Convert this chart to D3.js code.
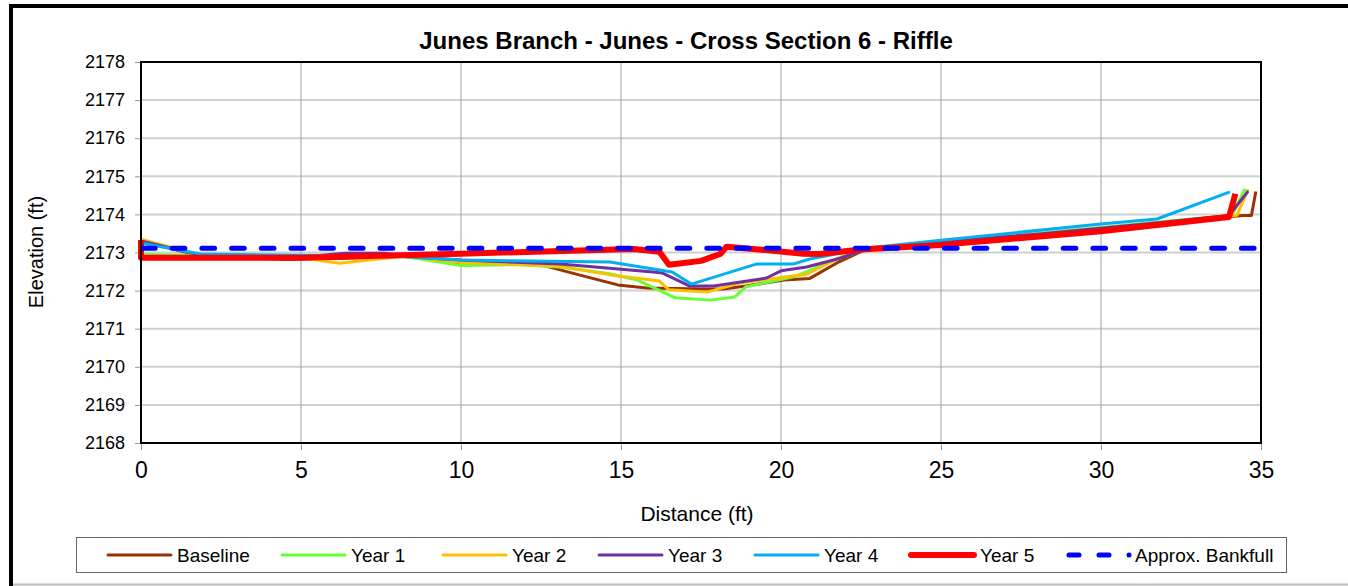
<!DOCTYPE html>
<html>
<head>
<meta charset="utf-8">
<script src="https://cdn.jsdelivr.net/npm/d3@7"></script>
<style>
  body { margin: 0; background: #fff; }
  svg text { font-family: "Liberation Sans", Arial, sans-serif; fill: #000; }
</style>
</head>
<body>
<script>
// data (distance ft, elevation ft)
var baseline = [[0, 2173.3], [1.9, 2172.9], [4.6, 2172.82], [6.3, 2172.85], [8.2, 2172.9], [10, 2172.72], [12.3, 2172.72],
  [13.75, 2172.4], [14.9, 2172.15], [15.8, 2172.07], [17.5, 2172.04], [18.2, 2172.04], [18.9, 2172.12], [20.1, 2172.28],
  [20.9, 2172.32], [21.8, 2172.75], [22.7, 2173.1], [25, 2173.28], [28, 2173.45], [31.8, 2173.78], [34.45, 2173.97],
  [34.7, 2173.97], [34.84, 2174.6]];
var year1 = [[0, 2172.95], [1.9, 2172.92], [5, 2172.88], [8.2, 2172.9], [10, 2172.66], [11.8, 2172.68], [13.1, 2172.62],
  [14.6, 2172.45], [15.5, 2172.28], [16.7, 2171.81], [17.8, 2171.75], [18.55, 2171.83], [18.9, 2172.1], [20.4, 2172.36],
  [21.85, 2172.85], [22.7, 2173.1], [25, 2173.28], [28, 2173.5], [31.8, 2173.8], [34.1, 2173.98], [34.5, 2174.67]];
var year2 = [[0, 2173.35], [1.9, 2172.92], [5, 2172.86], [6.2, 2172.72], [8.2, 2172.9], [10, 2172.74], [13.1, 2172.64],
  [14.75, 2172.4], [16.2, 2172.25], [16.5, 2172.02], [17.7, 2171.96], [18.7, 2172.2], [20.8, 2172.43], [21.85, 2172.88],
  [22.7, 2173.12], [25, 2173.28], [28, 2173.48], [31.8, 2173.78], [34.25, 2173.98], [34.6, 2174.66]];
var year3 = [[0, 2173.3], [1.9, 2172.92], [5, 2172.88], [6.4, 2172.98], [7.6, 2172.98], [8.5, 2172.88], [10, 2172.8],
  [13.1, 2172.7], [16.0, 2172.49], [16.3, 2172.46], [17.15, 2172.12], [17.9, 2172.12], [19.55, 2172.33], [20.0, 2172.52],
  [20.8, 2172.62], [21.85, 2172.85], [22.7, 2173.1], [25, 2173.28], [28, 2173.48], [31.8, 2173.78], [34.0, 2173.97],
  [34.6, 2174.61]];
var year4 = [[0, 2173.25], [1.85, 2172.96], [5, 2172.93], [8, 2172.9], [10, 2172.8], [14.65, 2172.75], [16.6, 2172.49],
  [17.2, 2172.17], [19.25, 2172.7], [20.4, 2172.7], [20.9, 2172.83], [22.7, 2173.12], [25, 2173.32], [30, 2173.75],
  [31.75, 2173.88], [34.03, 2174.59]];
var year5 = [[0, 2173.33], [0, 2172.86], [5, 2172.86], [10, 2172.97], [15.4, 2173.09], [16.2, 2173.02], [16.5, 2172.68],
  [17.5, 2172.78], [18.1, 2172.96], [18.3, 2173.15], [19.3, 2173.08], [20.7, 2172.97], [21.2, 2172.96], [22.5, 2173.08],
  [25, 2173.2], [30, 2173.56], [34.0, 2173.93], [34.2, 2174.54]];
var bankfull = [[0, 2173.11], [35, 2173.11]];

var seriesNames = ["Baseline", "Year 1", "Year 2", "Year 3", "Year 4", "Year 5", "Approx. Bankfull"];
var seriesColors = ["#993300", "#66ff33", "#ffc000", "#7030a0", "#00b0f0", "#ff0000", "#0000ff"];
var xTicks = [0, 5, 10, 15, 20, 25, 30, 35];
var yTicks = [2168, 2169, 2170, 2171, 2172, 2173, 2174, 2175, 2176, 2177, 2178];

var series = [baseline, year1, year2, year3, year4, year5, bankfull];
var widths = [3, 3, 3, 3, 3, 6, 5];

var W = 1348, H = 586;
var margin = {top: 62, right: 87, bottom: 143, left: 141},
    width = W - margin.left - margin.right,
    height = H - margin.top - margin.bottom;

var svg = d3.select("body").append("svg")
    .attr("width", W)
    .attr("height", H);

// outer chart frame (cut off on the right / bottom like the source)
svg.append("rect")
    .attr("x", 11).attr("y", 6)
    .attr("width", W + 20).attr("height", H + 20)
    .attr("fill", "none")
    .attr("stroke", "#000")
    .attr("stroke-width", 4);
svg.append("line")
    .attr("x1", 13).attr("x2", W)
    .attr("y1", 584.5).attr("y2", 584.5)
    .attr("stroke", "#bbb").attr("stroke-width", 2);

var x = d3.scaleLinear().domain([0, 35]).range([0, width]);
var y = d3.scaleLinear().domain([2168, 2178]).range([height, 0]);

var g = svg.append("g").attr("transform", "translate(" + margin.left + "," + margin.top + ")");

// grid
g.selectAll("line.hgrid")
    .data(yTicks)
    .enter().append("line")
    .attr("class", "hgrid")
    .attr("x1", 0).attr("x2", width)
    .attr("y1", function (d) { return y(d); })
    .attr("y2", function (d) { return y(d); })
    .attr("stroke", "#d0d0d0")
    .attr("stroke-width", 2);

g.selectAll("line.vgrid")
    .data(xTicks)
    .enter().append("line")
    .attr("class", "vgrid")
    .attr("x1", function (d) { return x(d); })
    .attr("x2", function (d) { return x(d); })
    .attr("y1", 0).attr("y2", height)
    .attr("stroke", "#a0a0a0")
    .attr("stroke-width", 1);

// axes
var yAxis = g.append("g")
    .call(d3.axisLeft(y).tickValues(yTicks).tickSize(6).tickPadding(10).tickFormat(d3.format("d")));
yAxis.select(".domain").remove();
yAxis.selectAll(".tick line").attr("stroke", "#999");
yAxis.selectAll("text").style("font-size", "18px");

var xAxis = g.append("g")
    .attr("transform", "translate(0," + height + ")")
    .call(d3.axisBottom(x).tickValues(xTicks).tickSize(7).tickPadding(12));
xAxis.select(".domain").remove();
xAxis.selectAll(".tick line").attr("stroke", "#999");
xAxis.selectAll("text").style("font-size", "23px");

// lines
var line = d3.line()
    .x(function (d) { return x(d[0]); })
    .y(function (d) { return y(d[1]); });

g.selectAll("path.series")
    .data(series)
    .enter().append("path")
    .attr("class", "series")
    .attr("d", line)
    .attr("fill", "none")
    .attr("stroke", function (d, i) { return seriesColors[i]; })
    .attr("stroke-width", function (d, i) { return widths[i]; })
    .attr("stroke-linejoin", "round")
    .attr("stroke-linecap", function (d, i) { return i == 6 ? "round" : "butt"; })
    .attr("stroke-dasharray", function (d, i) { return i == 6 ? "12.7,17" : null; })
    .attr("stroke-dashoffset", -1.5);

// plot frame
g.append("rect")
    .attr("width", width).attr("height", height)
    .attr("fill", "none")
    .attr("stroke", "#000")
    .attr("stroke-width", 2);

// titles
svg.append("text")
    .attr("x", 686).attr("y", 49)
    .attr("text-anchor", "middle")
    .style("font-size", "24px").style("font-weight", "bold")
    .text("Junes Branch - Junes - Cross Section 6 - Riffle");

svg.append("text")
    .attr("x", 697).attr("y", 521)
    .attr("text-anchor", "middle")
    .style("font-size", "21px")
    .text("Distance (ft)");

svg.append("text")
    .attr("transform", "translate(43,252) rotate(-90)")
    .attr("text-anchor", "middle")
    .style("font-size", "20px")
    .text("Elevation (ft)");

// legend
var legend = svg.append("g");
legend.append("rect")
    .attr("x", 76.5).attr("y", 537.5)
    .attr("width", 1210).attr("height", 35)
    .attr("fill", "#fff")
    .attr("stroke", "#666")
    .attr("stroke-width", 1);

var legX = [108, 282, 443, 599, 755, 911, 1067];
var item = legend.selectAll("g.item")
    .data(seriesNames)
    .enter().append("g")
    .attr("class", "item")
    .attr("transform", function (d, i) { return "translate(" + legX[i] + ",555)"; });

item.filter(function (d, i) { return i < 6; }).append("line")
    .attr("x1", 0).attr("x2", 63)
    .attr("y1", 0).attr("y2", 0)
    .attr("stroke", function (d, i) { return seriesColors[i]; })
    .attr("stroke-width", function (d, i) { return widths[i]; })
    .attr("stroke-linecap", "round");

var bf = item.filter(function (d, i) { return i == 6; });
bf.append("line")
    .attr("x1", 2).attr("x2", 45).attr("y1", 0).attr("y2", 0)
    .attr("stroke", seriesColors[6]).attr("stroke-width", 5)
    .attr("stroke-linecap", "round")
    .attr("stroke-dasharray", "10,20");
bf.append("circle")
    .attr("cx", 62).attr("cy", 0).attr("r", 2.5)
    .attr("fill", seriesColors[6]);

item.append("text")
    .attr("x", function (d, i) { return i == 6 ? 68 : 69; })
    .attr("y", 7)
    .style("font-size", "19px")
    .text(function (d) { return d; });
</script>
</body>
</html>
